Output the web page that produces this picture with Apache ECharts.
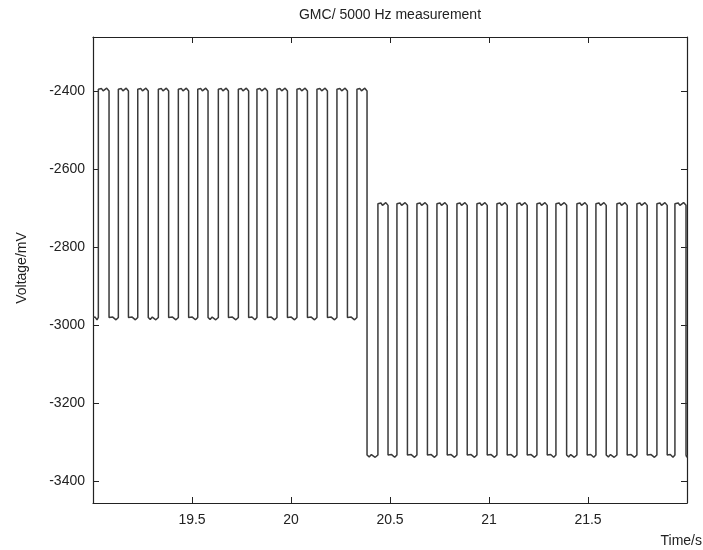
<!DOCTYPE html>
<html>
<head>
<meta charset="utf-8">
<script src="https://cdn.jsdelivr.net/npm/echarts@6/dist/echarts.min.js"></script>
<style>
  html, body { margin: 0; padding: 0; background: #fff; }
  #graph1 { width: 703px; height: 550px; }
</style>
</head>
<body>
<div id="graph1"></div>
<script>
// edges of the square wave (s)
const riseTimes = [
  19.027, 19.128, 19.226, 19.330, 19.431, 19.529, 19.633, 19.734, 19.828, 19.929,
  20.030, 20.131, 20.232, 20.333,
  20.439, 20.535, 20.636, 20.737, 20.838, 20.939, 21.040, 21.141, 21.242, 21.338,
  21.444, 21.540, 21.646, 21.747, 21.848, 21.939
];
const fallTimes = [
  19.081, 19.179, 19.279, 19.382, 19.483, 19.581, 19.684, 19.786, 19.881, 19.982,
  20.083, 20.184, 20.285, 20.384,
  20.490, 20.588, 20.689, 20.789, 20.890, 20.991, 21.092, 21.193, 21.294, 21.392,
  21.496, 21.592, 21.698, 21.799, 21.900, 21.995
];
// plateau levels (mV): high level of each pulse, low level before each pulse (+ the last one)
const highLevels = [
  -2400, -2400, -2400, -2400, -2400, -2400, -2400, -2400, -2400, -2400,
  -2400, -2400, -2400, -2400,
  -2693, -2693, -2693, -2693, -2693, -2693, -2693, -2693, -2693, -2693,
  -2693, -2693, -2693, -2693, -2693, -2693
];
const lowLevels = [
  -2978, -2978, -2978, -2978, -2978, -2978, -2978, -2978, -2978, -2978,
  -2978, -2978, -2978, -2978,
  -3330, -3330, -3330, -3330, -3330, -3330, -3330, -3330, -3330, -3330,
  -3330, -3330, -3330, -3330, -3330, -3330, -3330
];
// small ripple on the plateaus: [fraction of plateau, offset mV]
const topRipple = [[0, 4], [0.15, 1], [0.3, 6], [0.45, 0], [0.6, 3], [0.78, 7], [0.92, 2], [1, 0]];
const bottomRipple = [[0, -2], [0.2, -7], [0.4, -1], [0.55, -3], [0.75, -8], [1, -2]];

const xStart = 19, xEnd = 22;
const xTicks = [19.5, 20, 20.5, 21, 21.5];
const yTicks = [-3400, -3200, -3000, -2800, -2600, -2400];

function plateau(out, t0, t1, level, ripple) {
  ripple.forEach(function (r) {
    out.push([t0 + (t1 - t0) * r[0], level + r[1]]);
  });
}

let signal = [];
let prevEnd = xStart;
for (let i = 0; i < riseTimes.length; i++) {
  plateau(signal, prevEnd, riseTimes[i], lowLevels[i], bottomRipple);
  plateau(signal, riseTimes[i], fallTimes[i], highLevels[i], topRipple);
  prevEnd = fallTimes[i];
}
plateau(signal, prevEnd, xEnd, lowLevels[lowLevels.length - 1], bottomRipple);

let myChart = echarts.init(document.getElementById("graph1"));
const axisColor = "#222";
const font = "Liberation Sans, Arial, sans-serif";

function xAx(pos, labels) {
  return {
    type: "value",
    position: pos,
    min: xStart,
    max: xEnd,
    axisLine: { show: true, onZero: false, lineStyle: { color: axisColor, width: 1.2 } },
    axisTick: { show: true, inside: true, length: 6, customValues: xTicks, lineStyle: { color: axisColor } },
    axisLabel: {
      show: labels, customValues: xTicks, margin: 10,
      formatter: function (v) { return String(v); },
      color: "#222", fontSize: 14, fontFamily: font
    },
    splitLine: { show: false }
  };
}
function yAx(pos, labels) {
  return {
    type: "value",
    position: pos,
    min: -3455,
    max: -2262,
    axisLine: { show: true, onZero: false, lineStyle: { color: axisColor, width: 1.2 } },
    axisTick: { show: true, inside: true, length: 6, customValues: yTicks, lineStyle: { color: axisColor } },
    axisLabel: {
      show: labels, customValues: yTicks, margin: 8,
      formatter: function (v) { return String(v); },
      color: "#222", fontSize: 14, fontFamily: font
    },
    splitLine: { show: false }
  };
}

const option = {
  animation: false,
  backgroundColor: "#fff",
  grid: { left: 93, right: 16, top: 37, bottom: 47 },
  xAxis: [xAx("bottom", true), xAx("top", false)],
  yAxis: [yAx("left", true), yAx("right", false)],
  graphic: [
    {
      type: "text", x: 390, y: 15,
      style: { text: "GMC/ 5000 Hz measurement", fill: "#222", font: "14px " + font, textAlign: "center", textVerticalAlign: "middle" }
    },
    {
      type: "text", x: 702, y: 541,
      style: { text: "Time/s", fill: "#222", font: "14px " + font, textAlign: "right", textVerticalAlign: "middle" }
    },
    {
      type: "text", x: 22, y: 268, rotation: Math.PI / 2,
      style: { text: "Voltage/mV", fill: "#222", font: "14px " + font, textAlign: "center", textVerticalAlign: "middle" }
    }
  ],
  series: [
    {
      name: "signal",
      type: "line",
      data: signal,
      showSymbol: false,
      lineStyle: { color: "#3a3a3a", width: 1.5 },
      clip: true
    }
  ]
};

myChart.setOption(option);
</script>
</body>
</html>
